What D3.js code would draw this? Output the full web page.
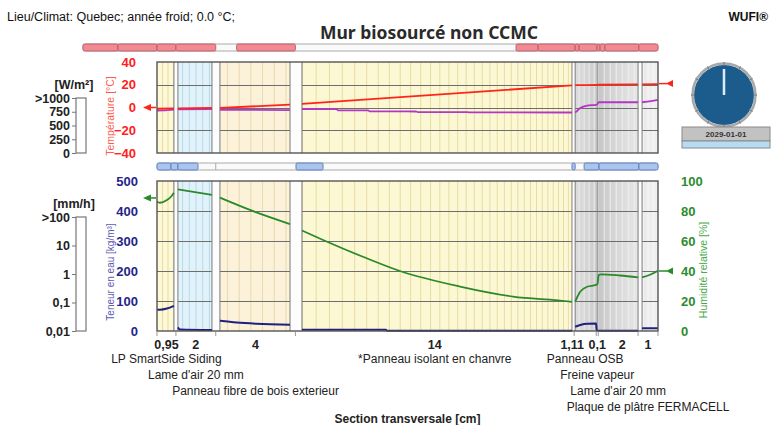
<!DOCTYPE html>
<html><head><meta charset="utf-8">
<script src="https://cdn.jsdelivr.net/npm/d3@7"></script>
<style>
body{margin:0;background:#fff;}
svg{display:block;font-family:"Liberation Sans",Arial,sans-serif;}
</style></head><body>
<svg id="c" width="773" height="425"></svg>
<script>
// ---------------- DATA ----------------
const layerNames = ["LP SmartSide Siding","Lame d'air 20 mm","Panneau fibre de bois exterieur","*Panneau isolant en chanvre","Panneau OSB","Freine vapeur","Lame d'air 20 mm","Plaque de plâtre FERMACELL"];
const layerThickness = [0.95,2,4,14,1.11,0.1,2,1];
const thicknessLabels = ["0,95","2","4","14","1,11","0,1","2","1"];
const gapRanges = [[0.85,1.05],[2.76,3.16],[6.68,7.28],[20.84,21.0],[24.16,24.36]];
const tempTicks = [40,20,0,-20,-40];
const waterTicks = [500,400,300,200,100,0];
const rhTicks = [100,80,60,40,20,0];
const radLabels = [">1000","750","500","250","0"];
const rainLabels = [">100","10","1","0,1","0,01"];
const exteriorTemp = 0, interiorTemp = 21, exteriorRH = 88.7, interiorRH = 40;
const temperature = [[0,-1.1],[0.85,-0.7],null,[1.05,-0.8],[2.76,-0.4],null,[3.16,-0.4],[6.68,2.5],null,[7.28,3.1],[20.84,19.5],null,[21.0,19.6],[22.05,19.9],[22.15,20.0],[24.16,20.3],null,[24.36,20.3],[25.16,20.6]];
const dewPoint = [[0,-2.8],[0.3,-2.6],[0.85,-1.8],null,[1.05,-1.6],[2.76,-1.4],null,[3.16,-2.0],[6.68,-2.3],null,[7.28,-1.3],[9.0,-1.4],[9.1,-2.5],[10.6,-2.6],[10.7,-3.4],[13.0,-3.5],[13.1,-4.0],[15.6,-4.1],[15.7,-4.3],[20.84,-4.4],null,[21.0,-4.3],[21.1,-3.0],[21.2,-1.2],[21.35,0.3],[21.6,1.6],[22.05,2.4],[22.12,3.0],[22.18,4.8],[24.16,4.6],null,[24.36,4.6],[24.8,5.6],[25.16,6.8]];
const relHumidity = [[0,86.2],[0.15,85.5],[0.5,87.3],[0.7,89.5],[0.85,92.2],null,[1.05,94.4],[2.76,90.7],null,[3.16,88.9],[4.67,80.7],[6.68,71.3],null,[7.28,67],[8.34,60.7],[10.34,49.5],[12.2,40],[15.22,29.6],[17.88,22.9],[20.74,19.6],[20.84,19.4],null,[21.0,19.6],[21.1,22.5],[21.25,26.2],[21.6,29.5],[22.05,30.7],[22.12,31.5],[22.18,37.3],[22.3,37.8],[23.25,37.0],[24.16,35.8],null,[24.36,35.8],[24.76,37.5],[25.16,40.2]];
const waterContent = [[0,72],[0.15,71],[0.5,75],[0.85,84],null,[1.05,12],[1.15,5],[2.76,3],null,[3.16,34],[4.0,28],[5.0,24],[6.68,21],null,[7.28,4],[11.5,4],[11.55,1],[20.84,1],null,[21.0,14],[21.3,21],[21.6,24],[22.05,25],[22.08,2],[22.25,0.5],[24.16,0.5],null,[24.36,9],[25.16,9]];
const heatBarSegments = [[-3.72,-1.96],[-1.96,0],[0,0.95],[0.95,2.95],[4.0,6.95],[18.03,19.14],[19.14,21.0],[21.0,21.2],[21.2,22.1],[22.1,22.25],[22.25,22.5],[22.5,24.2],[24.2,25.16]];
const moistBarSegments = [[0,0.7],[0.7,1.05],[1.05,2.06],[6.98,8.34],[20.84,21.0],[21.45,22.2],[22.2,24.2],[24.2,25.16]];
const clockDate = "2029-01-01";

// ---------------- STYLES / LAYOUT ----------------
const svg = d3.select("#c");
const total = d3.sum(layerThickness);
const x = d3.scaleLinear().domain([0,total]).range([157,658]);
const bounds = [0]; layerThickness.forEach(t=>bounds.push(bounds[bounds.length-1]+t));
const topP = {y0:62,y1:153};
const botP = {y0:181,y1:331};
const yT = d3.scaleLinear().domain([-40,40]).range([topP.y1,topP.y0]);
const yW = d3.scaleLinear().domain([0,500]).range([botP.y1,botP.y0]);
const yR = d3.scaleLinear().domain([0,100]).range([botP.y1,botP.y0]);

const defs = svg.append("defs");
function grad(id, stops){
  const g = defs.append("linearGradient").attr("id",id).attr("x1","0").attr("x2","1").attr("y1","0").attr("y2","0");
  stops.forEach(s=>g.append("stop").attr("offset",s[0]).attr("stop-color",s[1]));
}
grad("gOSB",[[0,"#dcdcdc"],[0.5,"#d6d6d6"],[1,"#cdcdcd"]]);
grad("gFV",[[0,"#b4b4b4"],[0.5,"#9c9c9c"],[1,"#b0b0b0"]]);
grad("gAir",[[0,"#c6c6c6"],[0.5,"#d9d9d9"],[1,"#e6e6e6"]]);
grad("gPl",[[0,"#e8e8e8"],[1,"#f0f0f0"]]);
const layerStyle = [
  {fill:"#fdf8d6", mesh:"#e6dca4", step:5.5},
  {fill:"#e0f2fa", mesh:"#bed8e8", step:6.7},
  {fill:"#fcf2d9", mesh:"#e8d9b0", step:11.7},
  {fill:"#fdf8d4", mesh:"#e6dca4", graded:true},
  {fill:"url(#gOSB)", mesh:"#ececec", step:5},
  {fill:"url(#gFV)", mesh:"#b8b8b8", step:3},
  {fill:"url(#gAir)", mesh:"#eeeeee", step:6},
  {fill:"url(#gPl)", mesh:"#f8f8f8", step:5}
];

function drawPanel(p, gridVals, yScale){
  const g = svg.append("g");
  const h = p.y1-p.y0;
  layerThickness.forEach((t,i)=>{
    const xa = x(bounds[i]), xb = x(bounds[i+1]);
    g.append("rect").attr("x",xa).attr("y",p.y0).attr("width",xb-xa).attr("height",h).attr("fill",layerStyle[i].fill);
    const st = layerStyle[i];
    let pos = [];
    if(st.graded){
      let xx = xa + 7;
      while(xx < xb-2){ pos.push(xx); const f=(xx-xa)/(xb-xa); xx += 14 - 9.5*f; }
    } else {
      for(let xx = xa+st.step; xx < xb-1; xx += st.step) pos.push(xx);
    }
    g.selectAll(null).data(pos).enter().append("line")
      .attr("x1",d=>d).attr("x2",d=>d).attr("y1",p.y0).attr("y2",p.y1)
      .attr("stroke",st.mesh).attr("stroke-width",1);
  });
  g.selectAll(null).data(gridVals).enter().append("line")
    .attr("x1",x(0)).attr("x2",x(total)).attr("y1",d=>Math.round(yScale(d))+0.5).attr("y2",d=>Math.round(yScale(d))+0.5)
    .attr("stroke","#6e6e6e").attr("stroke-width",1);
  gapRanges.forEach(r=>{
    const xa=x(r[0]), xb=x(r[1]);
    g.append("rect").attr("x",xa).attr("y",p.y0).attr("width",xb-xa).attr("height",h).attr("fill","#fdfdfd");
    g.append("line").attr("x1",xa).attr("x2",xa).attr("y1",p.y0).attr("y2",p.y1).attr("stroke","#7a7a7a").attr("stroke-width",1);
    g.append("line").attr("x1",xb).attr("x2",xb).attr("y1",p.y0).attr("y2",p.y1).attr("stroke","#7a7a7a").attr("stroke-width",1);
  });
  return g;
}
const gTop = drawPanel(topP,[20,0,-20],yT);
const gBot = drawPanel(botP,[400,300,200,100],yW);

function curve(g, data, ys, color, w){
  g.append("path").datum(data)
    .attr("d", d3.line().defined(d=>d).x(d=>x(d[0])).y(d=>ys(d[1])).curve(d3.curveMonotoneX))
    .attr("fill","none").attr("stroke",color).attr("stroke-width",w).attr("stroke-linejoin","round");
}
curve(gTop, dewPoint, yT, "#b436c4", 1.8);
curve(gTop, temperature, yT, "#ff2418", 1.8);
curve(gBot, waterContent, yW, "#20207e", 2);
curve(gBot, relHumidity, yR, "#2a8a2a", 1.8);

[topP,botP].forEach(p=>{
  svg.append("rect").attr("x",x(0)).attr("y",p.y0).attr("width",x(total)-x(0)).attr("height",p.y1-p.y0)
    .attr("fill","none").attr("stroke","#555").attr("stroke-width",1.4);
});

// axes
function styleAxis(sel, color, size){
  sel.select(".domain").remove();
  sel.selectAll(".tick line").remove();
  sel.selectAll("text").attr("fill",color).style("font-size",size+"px").style("font-weight","bold")
    .style("font-family","'Liberation Sans',Arial,sans-serif");
}
svg.append("g").attr("transform",`translate(${x(0)},0)`)
  .call(d3.axisLeft(yT).tickValues(tempTicks).tickFormat(d3.format("d")).tickPadding(15))
  .call(s=>styleAxis(s,"#ff2020",13));
svg.append("g").attr("transform",`translate(${x(0)},0)`)
  .call(d3.axisLeft(yW).tickValues(waterTicks).tickFormat(d3.format("d")).tickPadding(13))
  .call(s=>styleAxis(s,"#24248a",13));
svg.append("g").attr("transform",`translate(${x(total)},0)`)
  .call(d3.axisRight(yR).tickValues(rhTicks).tickFormat(d3.format("d")).tickPadding(17))
  .call(s=>styleAxis(s,"#2e8b2e",13));

// axis titles
svg.append("text").attr("transform","translate(114,116) rotate(-90)").attr("text-anchor","middle")
  .attr("fill","#ff5a4e").style("font-size","10.5px").text("Température [°C]");
svg.append("text").attr("transform","translate(114,272) rotate(-90)").attr("text-anchor","middle")
  .attr("fill","#5a5aae").style("font-size","10px").text("Teneur en eau [kg/m³]");
svg.append("text").attr("transform","translate(707,270) rotate(-90)").attr("text-anchor","middle")
  .attr("fill","#4aa84a").style("font-size","10.5px").text("Humidité relative [%]");

// left indicator boxes
function indicator(labels, y0, y1, unit, unitY){
  const s = d3.scalePoint().domain(labels).range([y0,y1]);
  svg.append("rect").attr("x",76).attr("y",y0).attr("width",10).attr("height",y1-y0)
    .attr("fill","#fff").attr("stroke","#777").attr("stroke-width",1.2);
  const a = svg.append("g").attr("transform","translate(76,0)")
    .call(d3.axisLeft(s).tickSize(4).tickPadding(2));
  a.select(".domain").remove();
  a.selectAll(".tick line").attr("stroke","#777");
  a.selectAll("text").attr("fill","#222").style("font-size","12.5px").style("font-weight","bold")
    .style("font-family","'Liberation Sans',Arial,sans-serif");
  svg.append("text").attr("x",74).attr("y",unitY).attr("text-anchor","middle").attr("fill","#222")
    .style("font-size","12.5px").style("font-weight","bold").text(unit);
}
indicator(radLabels, 98, 153, "[W/m²]", 89);
indicator(rainLabels, 217, 331, "[mm/h]", 208);

// boundary arrows
function arrow(xTip, xBase, xl0, xl1, y, color){
  svg.append("line").attr("x1",xl0).attr("x2",xl1).attr("y1",y).attr("y2",y).attr("stroke",color).attr("stroke-width",1.5);
  svg.append("path").attr("d",`M${xTip},${y}L${xBase},${y-3.5}L${xBase},${y+3.5}Z`).attr("fill",color);
}
arrow(143,151,150,156,yT(exteriorTemp),"#ff2418");
arrow(666,673,659,667,yT(interiorTemp),"#ff2418");
arrow(143,151,150,156,yR(exteriorRH),"#2a8a2a");
arrow(666,673,659,667,yR(interiorRH),"#2a8a2a");

// top bars
function bar(segs, y, h, fill, stroke, bg){
  svg.append("rect").attr("x",x(bg[0])).attr("y",y).attr("width",x(bg[1])-x(bg[0])).attr("height",h)
    .attr("rx",3).attr("fill","#fafafa").attr("stroke","#aaa").attr("stroke-width",1);
  svg.selectAll(null).data(segs).enter().append("rect")
    .attr("x",d=>x(d[0])).attr("y",y).attr("width",d=>x(d[1])-x(d[0])).attr("height",h)
    .attr("rx",1.5).attr("fill",fill).attr("stroke",stroke).attr("stroke-width",0.9);
}
bar(heatBarSegments, 44, 7, "#f28a92", "#b45a66", [-3.72,total]);
bar(moistBarSegments, 163, 7, "#a9c5ee", "#5676b4", [0,total]);
svg.append("line").attr("x1",x(2.95)).attr("x2",x(2.95)).attr("y1",163).attr("y2",170).attr("stroke","#aaa");

// bottom ticks
svg.selectAll(null).data(bounds).enter().append("line")
  .attr("x1",d=>x(d)).attr("x2",d=>x(d)).attr("y1",botP.y1+1).attr("y2",botP.y1+5).attr("stroke","#999");

// thickness labels
const labelShift = [0,0,0,0,-13,0,4,0];
svg.selectAll(null).data(thicknessLabels).enter().append("text")
  .attr("x",(d,i)=>x((bounds[i]+bounds[i+1])/2)+labelShift[i]).attr("y",349).attr("text-anchor","middle")
  .attr("fill","#222").style("font-size","12.5px").style("font-weight","bold").text(d=>d);

// layer names in staggered rows
const rowsEnd = [];
const tmp = svg.append("text").style("font-size","12px");
layerNames.forEach((n,i)=>{
  tmp.text(n); const w = tmp.node().getComputedTextLength();
  const cx = x((bounds[i]+bounds[i+1])/2);
  const a = cx-w/2, b = cx+w/2;
  let r = 0; while(rowsEnd[r]!==undefined && rowsEnd[r] > a-2) r++;
  rowsEnd[r] = b;
  svg.append("text").attr("x",cx).attr("y",363+r*16).attr("text-anchor","middle").attr("fill","#222")
    .style("font-size","12px").text(n);
});
tmp.remove();
svg.append("text").attr("x",(x(0)+x(total))/2).attr("y",423).attr("text-anchor","middle").attr("fill","#222")
  .style("font-size","12px").style("font-weight","bold").text("Section transversale [cm]");

// header
svg.append("text").attr("x",7).attr("y",21).attr("fill","#111").style("font-size","12.5px").text("Lieu/Climat: Quebec; année froid; 0.0 °C;");
svg.append("text").attr("x",768).attr("y",21).attr("text-anchor","end").attr("fill","#111").style("font-size","12px").style("font-weight","bold").text("WUFI®");
svg.append("text").attr("x",429).attr("y",39).attr("text-anchor","middle").attr("fill","#2a2a2a")
  .style("font-family","'Noto Sans','Open Sans',sans-serif").style("font-size","17.5px").style("font-weight","bold").text("Mur biosourcé non CCMC");

// clock
const cx=724, cy=95, cr=30;
svg.append("circle").attr("cx",cx).attr("cy",cy).attr("r",cr+1.5).attr("fill","none").attr("stroke","#a8a8a8").attr("stroke-width",2.5);
svg.append("circle").attr("cx",cx).attr("cy",cy).attr("r",cr).attr("fill","#1c5c8c");
d3.range(12).forEach(k=>{
  const a=k*Math.PI/6;
  svg.append("line").attr("x1",cx+Math.sin(a)*(cr-1)).attr("y1",cy-Math.cos(a)*(cr-1))
    .attr("x2",cx+Math.sin(a)*(cr+3)).attr("y2",cy-Math.cos(a)*(cr+3)).attr("stroke","#777").attr("stroke-width",1);
});
svg.append("line").attr("x1",cx).attr("y1",cy).attr("x2",cx).attr("y2",cy-cr+4).attr("stroke","#dbeeff").attr("stroke-width",2.5);
svg.append("rect").attr("x",682).attr("y",127).attr("width",88).attr("height",14).attr("fill","#c2c2c2").attr("stroke","#8a8a8a");
svg.append("text").attr("x",726).attr("y",137).attr("text-anchor","middle").attr("fill","#333").style("font-size","8px").style("font-weight","bold").text(clockDate);
svg.append("rect").attr("x",682).attr("y",141).attr("width",88).attr("height",7).attr("fill","#b6dcf4").attr("stroke","#8a8a8a");
</script>
</body></html>
